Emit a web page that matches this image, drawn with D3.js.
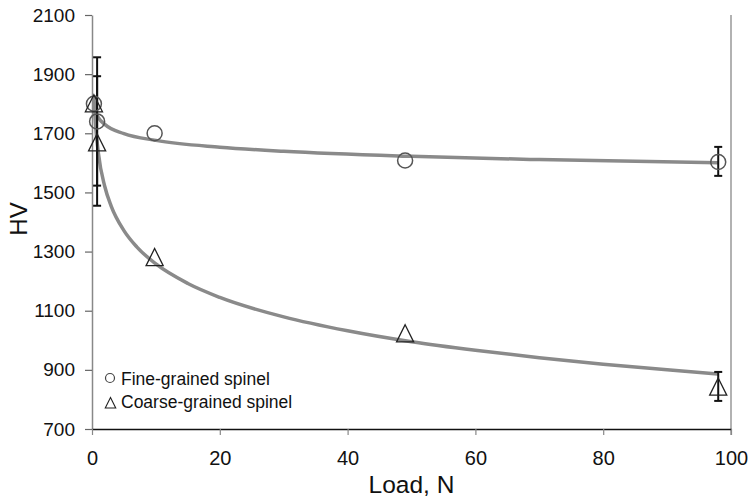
<!DOCTYPE html>
<html>
<head>
<meta charset="utf-8">
<script src="https://cdn.jsdelivr.net/npm/d3@7"></script>
<style>
  body { margin: 0; background: #fff; }
  svg { display: block; font-family: "Liberation Sans", Arial, sans-serif; }
</style>
</head>
<body>
<svg id="chart" width="750" height="502"></svg>
<script>
// measured points (load in N, hardness HV)
const fineLoad = [0.3, 0.8, 9.8, 49, 98];
const fineHV = [1800, 1740, 1700, 1608, 1603];
const coarseLoad = [0.3, 0.8, 9.8, 49, 98];
const coarseHV = [1800, 1668, 1280, 1022, 842];

// error bars: [load, low, high]
const fineErr = [[0.8, 1523, 1957], [98, 1556, 1654]];
const coarseErr = [[0.8, 1455, 1893], [98, 795, 893]];

// trend lines
const fineFitLoad = [0.3, 0.5, 1, 2, 5, 10, 20, 30, 50, 70, 98];
const fineFitHV = [1793, 1776, 1753, 1730, 1699, 1676, 1653, 1639, 1622, 1611, 1600];
const coarseFitLoad = [0.3, 0.5, 1, 2, 3, 5, 7, 10, 15, 20, 30, 40, 50, 60, 70, 80, 90, 98];
const coarseFitHV = [1829, 1746, 1633, 1520, 1454, 1371, 1316, 1258, 1192, 1145, 1079, 1032, 995, 966, 941, 919, 900, 886];

const xTicks = [0, 20, 40, 60, 80, 100];
const yTicks = [700, 900, 1100, 1300, 1500, 1700, 1900, 2100];
const legendLabels = ['Fine-grained spinel', 'Coarse-grained spinel'];

const margin = { top: 15, right: 19, bottom: 73, left: 92 };
const svg = d3.select('#chart');
const width = +svg.attr('width') - margin.left - margin.right;
const height = +svg.attr('height') - margin.top - margin.bottom;

const g = svg.append('g')
  .attr('transform', `translate(${margin.left},${margin.top})`);

const x = d3.scaleLinear().domain([0, 100]).range([0, width]);
const y = d3.scaleLinear().domain([700, 2100]).range([height, 0]);

// right frame line
g.append('line')
  .attr('x1', width).attr('x2', width)
  .attr('y1', 0).attr('y2', height + 6)
  .attr('stroke', '#999').attr('stroke-width', 1.5);

// axes
const yAxis = g.append('g')
  .call(d3.axisLeft(y).tickValues(yTicks).tickFormat(d3.format('d'))
    .tickSize(7).tickSizeOuter(0).tickPadding(10));
yAxis.select('.domain').attr('stroke', '#888').attr('stroke-width', 1.5);
yAxis.selectAll('.tick line').attr('stroke', '#666').attr('stroke-width', 1.2);
yAxis.selectAll('.tick text')
  .attr('font-size', 19).attr('fill', '#111')
  .attr('font-family', '"Liberation Sans", Arial, sans-serif');

const xAxis = g.append('g')
  .attr('transform', `translate(0,${height})`)
  .call(d3.axisBottom(x).tickValues(xTicks).tickFormat(d3.format('d'))
    .tickSize(6).tickSizeOuter(0).tickPadding(16));
xAxis.select('.domain').attr('stroke', '#111').attr('stroke-width', 1.5);
xAxis.selectAll('.tick line').attr('stroke', '#888').attr('stroke-width', 1.2);
xAxis.selectAll('.tick text')
  .attr('font-size', 20).attr('fill', '#111')
  .attr('font-family', '"Liberation Sans", Arial, sans-serif');

// axis titles
g.append('text')
  .attr('x', width / 2).attr('y', height + 64)
  .attr('text-anchor', 'middle')
  .attr('font-size', 24.5).attr('fill', '#111')
  .text('Load, N');

g.append('text')
  .attr('transform', `translate(${27 - margin.left},${219 - margin.top}) rotate(-90)`)
  .attr('text-anchor', 'middle')
  .attr('font-size', 24).attr('fill', '#111')
  .text('HV');

// trend lines
const line = d3.line()
  .x(d => x(d[0]))
  .y(d => y(d[1]))
  .curve(d3.curveMonotoneX);

const fits = [d3.zip(fineFitLoad, fineFitHV), d3.zip(coarseFitLoad, coarseFitHV)];
g.selectAll('path.fit')
  .data(fits)
  .enter()
  .append('path')
    .attr('class', 'fit')
    .attr('d', line)
    .attr('fill', 'none')
    .attr('stroke', '#8a8a8a')
    .attr('stroke-width', 3.5);

// error bars
const errs = fineErr.concat(coarseErr);
const eb = g.selectAll('g.err')
  .data(errs)
  .enter()
  .append('g')
    .attr('class', 'err')
    .attr('stroke', '#111')
    .attr('stroke-width', 2);
eb.append('line')
  .attr('x1', d => x(d[0])).attr('x2', d => x(d[0]))
  .attr('y1', d => y(d[1])).attr('y2', d => y(d[2]));
eb.append('line')
  .attr('x1', d => x(d[0]) - 4).attr('x2', d => x(d[0]) + 4)
  .attr('y1', d => y(d[1])).attr('y2', d => y(d[1]));
eb.append('line')
  .attr('x1', d => x(d[0]) - 4).attr('x2', d => x(d[0]) + 4)
  .attr('y1', d => y(d[2])).attr('y2', d => y(d[2]));

// markers
const tri = (cx, cy, s) =>
  `M${cx},${cy - s}L${cx + s * 0.95},${cy + s * 0.9}L${cx - s * 0.95},${cy + s * 0.9}Z`;

g.selectAll('circle.fine')
  .data(d3.zip(fineLoad, fineHV))
  .enter()
  .append('circle')
    .attr('class', 'fine')
    .attr('cx', d => x(d[0]))
    .attr('cy', d => y(d[1]))
    .attr('r', 7.5)
    .attr('fill', 'none')
    .attr('stroke', '#555')
    .attr('stroke-width', 1.5);

g.selectAll('path.coarse')
  .data(d3.zip(coarseLoad, coarseHV))
  .enter()
  .append('path')
    .attr('class', 'coarse')
    .attr('d', d => tri(x(d[0]), y(d[1]), 9))
    .attr('fill', 'none')
    .attr('stroke', '#222')
    .attr('stroke-width', 1.3);

// legend
const legend = svg.append('g');
legend.append('circle')
  .attr('cx', 110).attr('cy', 378).attr('r', 4.5)
  .attr('fill', 'none').attr('stroke', '#444').attr('stroke-width', 1.2);
legend.append('path')
  .attr('d', tri(110.5, 403, 5.5))
  .attr('fill', 'none').attr('stroke', '#222').attr('stroke-width', 1.1);
legend.selectAll('text')
  .data(legendLabels)
  .enter()
  .append('text')
    .attr('x', 121)
    .attr('y', (d, i) => 385 + i * 23)
    .attr('font-size', 17.5)
    .attr('fill', '#111')
    .text(d => d);
</script>
</body>
</html>
